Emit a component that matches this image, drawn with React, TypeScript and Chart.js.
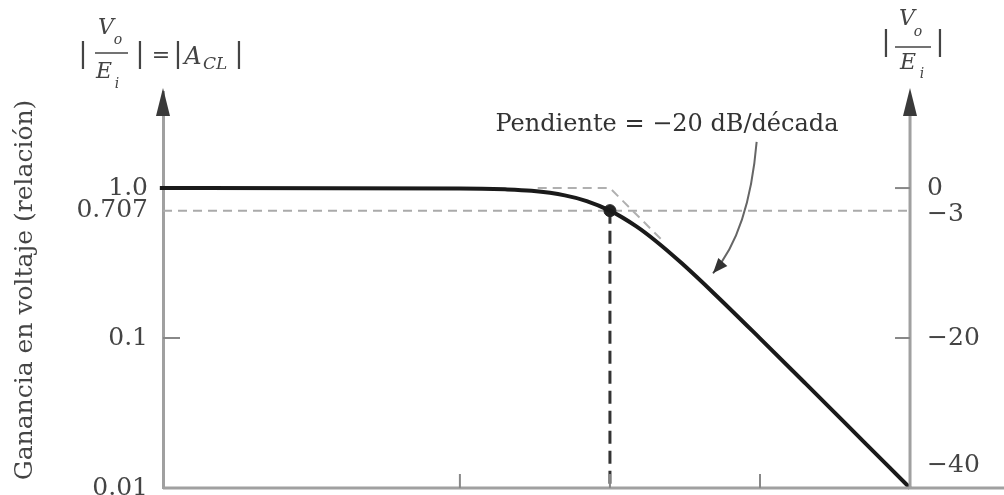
import React, { useEffect, useRef } from "react";
import { Chart, registerables } from "chart.js";

Chart.register(...registerables);

// Normalised frequency (f / fc) and gain
const curveFreqs = [0.001, 0.1, 0.2, 0.3, 0.5, 0.7, 1, 1.5, 2, 3, 5, 10, 20, 50, 100];
const curveGains = [1.0, 0.995, 0.98, 0.958, 0.894, 0.819, 0.707, 0.555, 0.447, 0.316, 0.196, 0.0995, 0.05, 0.02, 0.01];

// Asymptote (dashed, light)
const asymFreqs = [0.33, 1, 2.2];
const asymGains = [1, 1, 0.4545];

// Half-power (-3 dB) level and corner frequency
const halfPowerGain = 0.707;
const cornerFreq = 1;
const rightAxisFreq = 100;

// Axis ranges
const xMin = 0.00105;
const xMax = 423;
const yMin = 0.01;
const yMax = 4.37;

// Tick values and labels
const leftTickValues = [1, 0.707, 0.1, 0.01];
const leftTickLabels = ["1.0", "0.707", "0.1", "0.01"];
const rightTickValues = [1, 0.707, 0.1, 0.01];
const rightTickLabels = ["0", "\u22123", "\u221220", "\u221240"];
const xTickFreqs = [0.1, 1, 10];

// Annotation
const annotationText = "Pendiente = \u221220 dB/d\u00e9cada";
const annotationAt = { x: 2.4, y: 2.63 };
const arrowStart = { x: 9.5, y: 2.03 };
const arrowCtrl = { x: 8.45, y: 0.509 };
const arrowEnd = { x: 4.86, y: 0.27 };

const SERIF = "'DejaVu Serif', serif";
const TEXT = "#444444";
const AXIS = "#a0a0a0";

export default function App() {
  const ref = useRef<HTMLCanvasElement | null>(null);

  useEffect(() => {
    if (!ref.current) return;

    const decorations = {
      id: "decorations",
      afterDraw(chart: any) {
        const ctx = chart.ctx as CanvasRenderingContext2D;
        const xs = chart.scales.x;
        const ys = chart.scales.y;
        const area = chart.chartArea;
        const L = area.left;
        const B = area.bottom;
        const R = xs.getPixelForValue(rightAxisFreq);
        ctx.save();

        // x axis line
        ctx.strokeStyle = AXIS;
        ctx.lineWidth = 3;
        ctx.beginPath();
        ctx.moveTo(L, B);
        ctx.lineTo(area.right, B);
        ctx.stroke();

        // right axis line
        ctx.beginPath();
        ctx.moveTo(R, area.top + 10);
        ctx.lineTo(R, B);
        ctx.stroke();

        // x ticks (inward)
        ctx.strokeStyle = "#888";
        ctx.lineWidth = 2;
        xTickFreqs.forEach((f) => {
          const px = xs.getPixelForValue(f);
          ctx.beginPath();
          ctx.moveTo(px, B);
          ctx.lineTo(px, B - 14);
          ctx.stroke();
        });

        // left tick at 0.1 (inward)
        const p01 = ys.getPixelForValue(0.1);
        ctx.beginPath();
        ctx.moveTo(L, p01);
        ctx.lineTo(L + 17, p01);
        ctx.stroke();

        // right ticks (inward)
        [1, 0.1].forEach((v) => {
          const py = ys.getPixelForValue(v);
          ctx.beginPath();
          ctx.moveTo(R, py);
          ctx.lineTo(R - 15, py);
          ctx.stroke();
        });

        // right labels
        ctx.fillStyle = TEXT;
        ctx.font = `25px ${SERIF}`;
        ctx.textAlign = "left";
        ctx.textBaseline = "middle";
        rightTickValues.forEach((v, i) => {
          let py = ys.getPixelForValue(v);
          if (i === 1) py += 4;
          if (i === rightTickValues.length - 1) py -= 23;
          ctx.fillText(rightTickLabels[i], R + 17, py);
        });

        // axis arrowheads
        ctx.fillStyle = "#3a3a3a";
        [L, R].forEach((ax) => {
          ctx.beginPath();
          ctx.moveTo(ax, area.top - 4);
          ctx.lineTo(ax - 7, area.top + 24);
          ctx.lineTo(ax + 7, area.top + 24);
          ctx.closePath();
          ctx.fill();
        });

        // headers
        const t = (s: string, x: number, y: number, font: string, align: CanvasTextAlign = "center") => {
          ctx.font = font;
          ctx.textAlign = align;
          ctx.fillText(s, x, y);
        };
        ctx.fillStyle = TEXT;
        ctx.textBaseline = "middle";
        const bar = `28px ${SERIF}`;
        const it = `italic 22px ${SERIF}`;
        const sub = `italic 14px ${SERIF}`;
        // left header
        t("|", L - 80, 55, bar);
        t("V", L - 57, 28, it);
        t("o", L - 45, 40, sub);
        t("E", L - 59, 72, it);
        t("i", L - 46, 84, sub);
        t("|", L - 23, 55, bar);
        t("=", L - 2, 56, `22px ${SERIF}`);
        t("|", L + 15, 55, bar);
        t("A", L + 30, 58, `italic 24px ${SERIF}`);
        t("CL", L + 40, 65, `italic 17px ${SERIF}`, "left");
        t("|", L + 76, 55, bar);
        ctx.strokeStyle = TEXT;
        ctx.lineWidth = 1.5;
        ctx.beginPath();
        ctx.moveTo(L - 68, 53);
        ctx.lineTo(L - 35, 53);
        ctx.stroke();
        // right header
        t("|", R - 24, 43, bar);
        t("V", R - 3, 19, it);
        t("o", R + 8, 32, sub);
        t("E", R - 2, 63, it);
        t("i", R + 12, 74, sub);
        t("|", R + 30, 43, bar);
        ctx.beginPath();
        ctx.moveTo(R - 15, 47);
        ctx.lineTo(R + 21, 47);
        ctx.stroke();

        // annotation text
        ctx.fillStyle = "#333";
        ctx.font = `24px ${SERIF}`;
        ctx.textAlign = "center";
        ctx.fillText(annotationText, xs.getPixelForValue(annotationAt.x), ys.getPixelForValue(annotationAt.y));

        // curved arrow
        const sx = xs.getPixelForValue(arrowStart.x), sy = ys.getPixelForValue(arrowStart.y);
        const cx = xs.getPixelForValue(arrowCtrl.x), cy = ys.getPixelForValue(arrowCtrl.y);
        const ex = xs.getPixelForValue(arrowEnd.x), ey = ys.getPixelForValue(arrowEnd.y);
        ctx.strokeStyle = "#666";
        ctx.lineWidth = 2;
        ctx.beginPath();
        ctx.moveTo(sx, sy);
        ctx.quadraticCurveTo(cx, cy, ex, ey);
        ctx.stroke();
        const ang = Math.atan2(ey - cy, ex - cx);
        const hl = 15, hw = 6;
        ctx.fillStyle = "#333";
        ctx.beginPath();
        ctx.moveTo(ex, ey);
        ctx.lineTo(ex - hl * Math.cos(ang) + hw * Math.sin(ang), ey - hl * Math.sin(ang) - hw * Math.cos(ang));
        ctx.lineTo(ex - hl * Math.cos(ang) - hw * Math.sin(ang), ey - hl * Math.sin(ang) + hw * Math.cos(ang));
        ctx.closePath();
        ctx.fill();

        ctx.restore();
      },
    };

    const chart = new Chart(ref.current, {
      type: "line",
      data: {
        datasets: [
          {
            label: "curve",
            data: curveFreqs.map((f, i) => ({ x: f, y: curveGains[i] })),
            borderColor: "#1a1a1a",
            borderWidth: 4,
            pointRadius: 0,
            cubicInterpolationMode: "monotone",
            clip: false,
          },
          {
            label: "corner",
            data: [{ x: cornerFreq, y: halfPowerGain }],
            showLine: false,
            pointRadius: 6,
            pointBackgroundColor: "#222",
            pointBorderColor: "#222",
          },
          {
            label: "asymptote",
            data: asymFreqs.map((f, i) => ({ x: f, y: asymGains[i] })),
            borderColor: "#b0b0b0",
            borderWidth: 2,
            borderDash: [9, 6],
            pointRadius: 0,
          },
          {
            label: "half-power",
            data: [
              { x: xMin, y: halfPowerGain },
              { x: rightAxisFreq, y: halfPowerGain },
            ],
            borderColor: "#aaaaaa",
            borderWidth: 2,
            borderDash: [9, 6],
            pointRadius: 0,
          },
          {
            label: "corner-vertical",
            data: [
              { x: cornerFreq, y: halfPowerGain },
              { x: cornerFreq, y: yMin },
            ],
            borderColor: "#333",
            borderWidth: 3,
            borderDash: [13, 7],
            pointRadius: 0,
          },
        ],
      },
      options: {
        animation: false,
        responsive: false,
        maintainAspectRatio: false,
        events: [],
        layout: { autoPadding: false, padding: { top: 92, right: 0, bottom: 7, left: 0 } },
        plugins: { legend: { display: false }, tooltip: { enabled: false }, title: { display: false } },
        scales: {
          x: {
            type: "logarithmic",
            min: xMin,
            max: xMax,
            display: false,
          },
          y: {
            type: "logarithmic",
            position: "left",
            min: yMin,
            max: yMax,
            afterBuildTicks: (scale: any) => {
              scale.ticks = leftTickValues.map((v) => ({ value: v }));
            },
            afterFit: (scale: any) => {
              scale.width = 163;
              scale.paddingTop = 0;
              scale.paddingBottom = 0;
            },
            ticks: {
              callback: (_v: any, i: number) => leftTickLabels[i],
              font: { family: SERIF, size: 25 },
              color: TEXT,
              padding: 7,
              autoSkip: false,
            },
            grid: { display: false },
            border: { display: true, color: AXIS, width: 3 },
            title: {
              display: true,
              text: "Ganancia en voltaje (relaci\u00f3n)",
              font: { family: SERIF, size: 25 },
              color: TEXT,
              padding: { top: 10, bottom: 0 },
            },
          },
        },
      },
      plugins: [decorations],
    } as any);

    return () => chart.destroy();
  }, []);

  return (
    <div style={{ position: "fixed", left: 0, top: 0, width: 1004, height: 495, background: "#fff" }}>
      <canvas ref={ref} width={1004} height={495} style={{ display: "block" }} />
    </div>
  );
}
